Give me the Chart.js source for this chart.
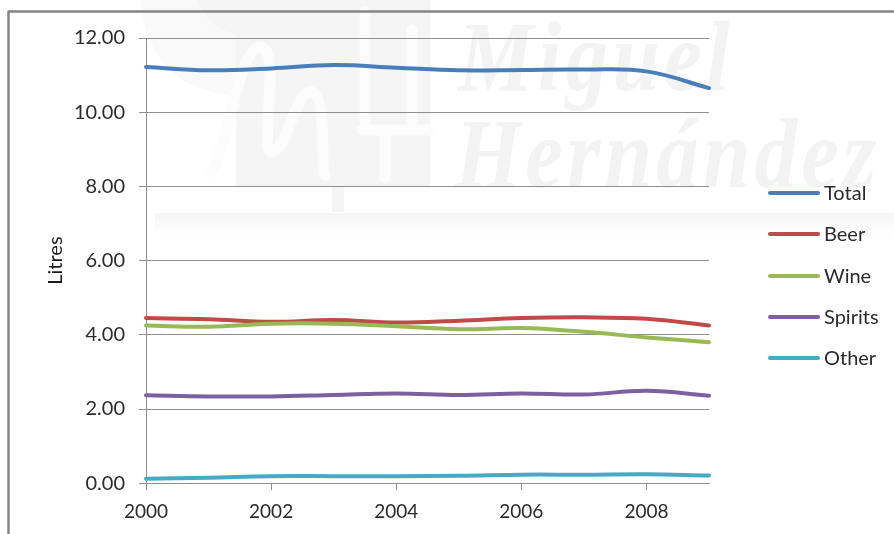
<!DOCTYPE html>
<html>
<head>
<meta charset="utf-8">
<title>Alcohol consumption</title>
<script src="https://cdn.jsdelivr.net/npm/chart.js@4/dist/chart.umd.min.js"></script>
<style>
    body { margin: 0; background: #fff; }
    canvas { display: block; }
</style>
</head>
<body>
<canvas id="litresChart" width="894" height="534"></canvas>
<script>
const years = [2000, 2001, 2002, 2003, 2004, 2005, 2006, 2007, 2008, 2009];
const total = [11.22, 11.13, 11.18, 11.27, 11.20, 11.13, 11.14, 11.15, 11.10, 10.65];
const beer = [4.45, 4.42, 4.35, 4.40, 4.33, 4.38, 4.45, 4.47, 4.43, 4.25];
const wine = [4.25, 4.22, 4.30, 4.30, 4.23, 4.15, 4.18, 4.08, 3.93, 3.80];
const spirits = [2.37, 2.34, 2.34, 2.38, 2.42, 2.38, 2.42, 2.39, 2.49, 2.36];
const other = [0.12, 0.15, 0.19, 0.19, 0.19, 0.20, 0.23, 0.23, 0.24, 0.21];

const seriesNames = ["Total", "Beer", "Wine", "Spirits", "Other"];
const seriesValues = [total, beer, wine, spirits, other];
const seriesColors = ["#4A7EBB", "#BE4B48", "#98B954", "#7D60A0", "#46AAC5"];

const fontName = "Lato, 'Noto Sans', sans-serif";
const textColor = "#2b2b2b";
const gridColor = "#8f8f8f";

// squeezed serif text for the university name
function drawName(ctx, text, x, y) {
    ctx.save();
    ctx.translate(x, y);
    ctx.scale(0.85, 1);
    ctx.fillText(text, 0, 0);
    ctx.restore();
}

// faint university crest and name behind the plot, plus the outer frame
const backdrop = {
    id: "backdrop",
    beforeDraw(chart) {
        const ctx = chart.ctx;
        ctx.save();
        ctx.fillStyle = "#fff";
        ctx.fillRect(0, 0, chart.width, chart.height);

        ctx.fillStyle = "#f9f9f9";
        ctx.beginPath();
        ctx.moveTo(140, 0);
        ctx.lineTo(430, 0);
        ctx.lineTo(430, 187);
        ctx.lineTo(236, 187);
        ctx.lineTo(236, 95);
        ctx.quadraticCurveTo(150, 90, 140, 0);
        ctx.fill();

        ctx.fillStyle = "#f5f5f5";
        ctx.beginPath();
        ctx.moveTo(198, 0);
        ctx.lineTo(430, 0);
        ctx.lineTo(430, 187);
        ctx.lineTo(236, 187);
        ctx.lineTo(236, 35);
        ctx.quadraticCurveTo(205, 25, 198, 0);
        ctx.fill();
        ctx.fillRect(332, 187, 12, 25);

        // white strokes of the crest letters
        ctx.strokeStyle = "#fcfcfc";
        ctx.lineWidth = 11;
        ctx.lineJoin = "round";
        ctx.lineCap = "round";
        ctx.beginPath();
        ctx.moveTo(212, 172);
        ctx.bezierCurveTo(232, 130, 240, 45, 261, 47);
        ctx.bezierCurveTo(282, 50, 258, 155, 272, 152);
        ctx.bezierCurveTo(288, 150, 295, 90, 311, 92);
        ctx.bezierCurveTo(328, 95, 320, 170, 325, 175);
        ctx.moveTo(365, 12);
        ctx.lineTo(365, 122);
        ctx.moveTo(412, 30);
        ctx.lineTo(412, 122);
        ctx.moveTo(362, 130);
        ctx.lineTo(428, 130);
        ctx.moveTo(385, 135);
        ctx.lineTo(385, 178);
        ctx.stroke();

        ctx.fillStyle = "#f3f3f3";
        ctx.font = "italic bold 100px 'Liberation Serif', serif";
        ctx.letterSpacing = "5px";
        ctx.textBaseline = "alphabetic";
        drawName(ctx, "Miguel", 458, 90);
        drawName(ctx, "Hernández", 455, 187);
        ctx.letterSpacing = "0px";

        const band = ctx.createLinearGradient(0, 213, 0, 236);
        band.addColorStop(0, "#f5f5f5");
        band.addColorStop(1, "#ffffff");
        ctx.fillStyle = band;
        ctx.fillRect(155, 213, 739, 23);

        ctx.strokeStyle = "#858585";
        ctx.lineWidth = 2.5;
        ctx.beginPath();
        ctx.moveTo(8.5, 534);
        ctx.lineTo(8.5, 11.5);
        ctx.lineTo(894, 11.5);
        ctx.stroke();
        ctx.restore();
    },
    // key to the right of the plot, short line then name
    afterDraw(chart) {
        const ctx = chart.ctx;
        const rows = [193, 234, 276, 317, 358];
        ctx.save();
        ctx.font = "20px " + fontName;
        ctx.textBaseline = "middle";
        ctx.lineCap = "round";
        ctx.lineWidth = 4;
        seriesNames.forEach((name, i) => {
            ctx.strokeStyle = seriesColors[i];
            ctx.beginPath();
            ctx.moveTo(770, rows[i]);
            ctx.lineTo(818, rows[i]);
            ctx.stroke();
            ctx.fillStyle = textColor;
            ctx.fillText(name, 824, rows[i] + 1);
        });
        ctx.restore();
    }
};

const datasets = seriesNames.map((name, i) => ({
    label: name,
    data: years.map((year, j) => ({ x: year, y: seriesValues[i][j] })),
    borderColor: seriesColors[i],
    backgroundColor: seriesColors[i],
    borderWidth: 4,
    borderCapStyle: "round",
    tension: 0.4,
    pointRadius: 0,
    clip: false,
    order: seriesNames.length - i
}));

new Chart(document.getElementById("litresChart").getContext("2d"), {
    type: "line",
    data: { datasets: datasets },
    plugins: [backdrop],
    options: {
        responsive: false,
        animation: false,
        layout: { padding: { left: 44, top: 38, right: 185, bottom: 1 } },
        plugins: {
            legend: { display: false },
            tooltip: { enabled: false }
        },
        scales: {
            x: {
                type: "linear",
                min: 2000,
                max: 2009,
                grid: { drawOnChartArea: false, color: gridColor, tickLength: 7 },
                border: { color: gridColor },
                ticks: {
                    stepSize: 2,
                    includeBounds: false,
                    maxRotation: 0,
                    padding: 10,
                    color: textColor,
                    font: { family: fontName, size: 19 },
                    callback: value => String(value)
                }
            },
            y: {
                min: 0,
                max: 12,
                afterFit: scale => { scale.width = 102; },
                grid: { color: gridColor, tickLength: 7 },
                border: { color: gridColor },
                title: {
                    display: true,
                    text: "Litres",
                    color: "#1a1a1a",
                    font: { family: fontName, size: 20 },
                    padding: { top: 0, bottom: 4 }
                },
                ticks: {
                    stepSize: 2,
                    padding: 14,
                    color: textColor,
                    font: { family: fontName, size: 20 },
                    callback: value => value.toFixed(2)
                }
            }
        }
    }
});
</script>
</body>
</html>
